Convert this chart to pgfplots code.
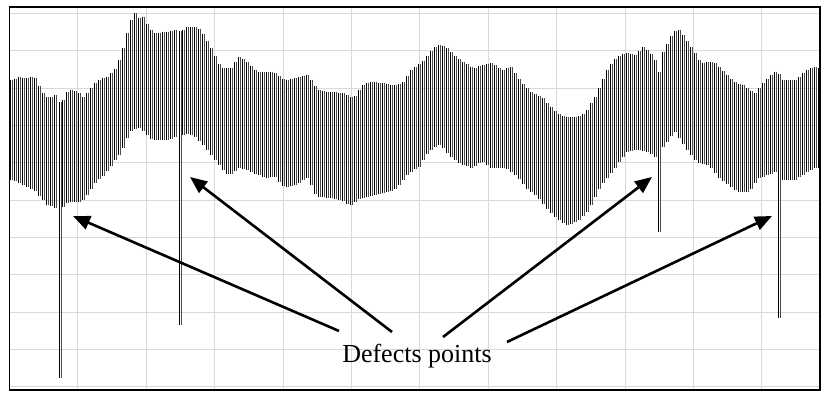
\documentclass[border=0pt]{standalone}
\usepackage{fontspec}
\setmainfont{Liberation Serif}
\usepackage{pgfplots}
\usepackage{pgfplotstable}
\pgfplotsset{compat=1.18}
\usetikzlibrary{arrows.meta}
% one row per oscillation cycle: position (px), crest (px from top), trough (px from top)
\pgfplotstableread{
x hi lo
10 80 180
14 79 181
18 77 183
22 78 185
26 78 187
30 77 189
34 78 191
38 86 196
42 93 200
46 97 205
50 97 206
54 95 208
59 102 378
62 100 207
66 92 203
70 90 202
74 91 202
78 93 202
82 97 200
86 93 195
90 88 189
94 83 183
98 80 179
102 78 176
106 77 171
110 73 166
114 69 160
118 60 155
122 48 148
126 33 138
130 20 131
134 13 129
138 18 128
142 17 131
146 24 135
150 30 139
154 33 140
158 33 140
162 32 140
166 32 140
170 31 139
174 30 137
179 31 325
182 30 135
186 27 134
190 27 135
194 27 137
198 29 141
202 34 145
206 41 150
210 48 155
214 56 160
218 64 165
222 68 170
226 68 174
230 68 174
234 62 171
238 57 168
242 59 169
246 62 170
250 66 172
254 70 174
258 72 175
262 72 177
266 72 178
270 72 177
274 73 177
278 76 182
282 79 186
286 80 187
290 79 186
294 78 185
298 77 183
302 76 180
306 75 178
310 80 185
314 86 194
318 90 197
322 91 197
326 92 198
330 92 198
334 92 199
338 93 200
342 93 201
346 95 204
350 97 205
354 96 202
358 90 199
362 85 198
366 83 197
370 82 196
374 82 195
378 83 194
382 83 193
386 84 192
390 85 191
394 85 189
398 84 185
402 82 180
406 76 175
410 70 172
414 67 169
418 64 167
422 61 160
426 56 154
430 51 150
434 47 147
438 45 145
442 46 148
446 48 153
450 52 157
454 56 160
458 59 163
462 62 165
466 64 166
470 67 168
474 68 166
478 66 163
482 65 162
486 64 165
490 63 168
494 65 168
498 68 168
502 70 168
506 68 169
510 67 172
514 73 175
518 79 179
522 84 184
526 88 189
530 92 192
534 94 195
538 96 199
542 98 204
546 103 209
550 107 213
554 111 217
558 114 220
562 116 223
566 117 225
570 117 224
574 117 222
578 116 220
582 114 216
586 110 212
590 103 205
594 97 197
598 88 189
602 79 183
606 70 178
610 64 173
614 59 168
618 56 162
622 54 157
626 53 152
630 54 151
634 55 150
638 51 150
642 47 151
646 50 152
650 54 154
654 60 157
658 72 232
662 52 147
666 44 142
670 36 136
674 31 132
678 30 138
682 35 144
686 41 150
690 47 155
694 53 160
698 60 163
702 63 164
706 62 165
710 62 168
714 63 173
718 67 178
722 71 181
726 75 184
730 79 187
734 82 190
738 84 192
742 85 192
746 88 192
750 91 189
754 93 183
758 88 178
762 83 177
766 79 175
770 75 174
774 72 172
778 74 318
782 80 180
786 80 180
790 80 180
794 80 180
798 77 177
802 73 175
806 70 172
810 68 170
814 67 168
818 68 168
}\signal
\begin{document}
\begin{tikzpicture}
\path (-9.4pt,-2pt) rectangle (812.6pt,390pt);
\begin{axis}[
  at={(0pt,0pt)}, anchor=south west,
  scale only axis, width=810.6pt, height=383pt,
  xmin=9.4, xmax=820, ymin=7, ymax=390, y dir=reverse,
  xtick={77.8,146.2,214.6,283.0,351.4,419.8,488.2,556.6,625.0,693.4,761.8},
  ytick={13.3,50.65,88.0,125.35,162.7,200.05,237.4,274.75,312.1,349.45,386.8},
  xticklabels={}, yticklabels={},
  major tick length=0pt,
  grid=major,
  grid style={draw=black!15, line width=0.9pt},
  axis line style={black, line width=1.1pt},
]
\addplot[black!70, line width=1.3pt, mark=none, quiver={u=0, v=\thisrow{lo}-\thisrow{hi}}]
  table[x expr=\thisrow{x}+2.5, y=hi] {\signal};
\addplot[black, line width=1.45pt, mark=none, quiver={u=0, v=\thisrow{lo}-\thisrow{hi}}]
  table[x expr=\thisrow{x}+0.5, y=hi] {\signal};
\draw[line width=2.6pt, -{Triangle[length=17pt,width=14pt]}] (axis cs:339,331) -- (axis cs:73,216);
\draw[line width=2.6pt, -{Triangle[length=17pt,width=14pt]}] (axis cs:392,332) -- (axis cs:190,177);
\draw[line width=2.6pt, -{Triangle[length=17pt,width=14pt]}] (axis cs:443,337) -- (axis cs:652,177);
\draw[line width=2.6pt, -{Triangle[length=17pt,width=14pt]}] (axis cs:507,342) -- (axis cs:772,216);
\node[anchor=base, font=\fontsize{26}{30}\selectfont, inner sep=0pt] at (axis cs:417,362) {Defects points};
\end{axis}
\end{tikzpicture}
\end{document}
